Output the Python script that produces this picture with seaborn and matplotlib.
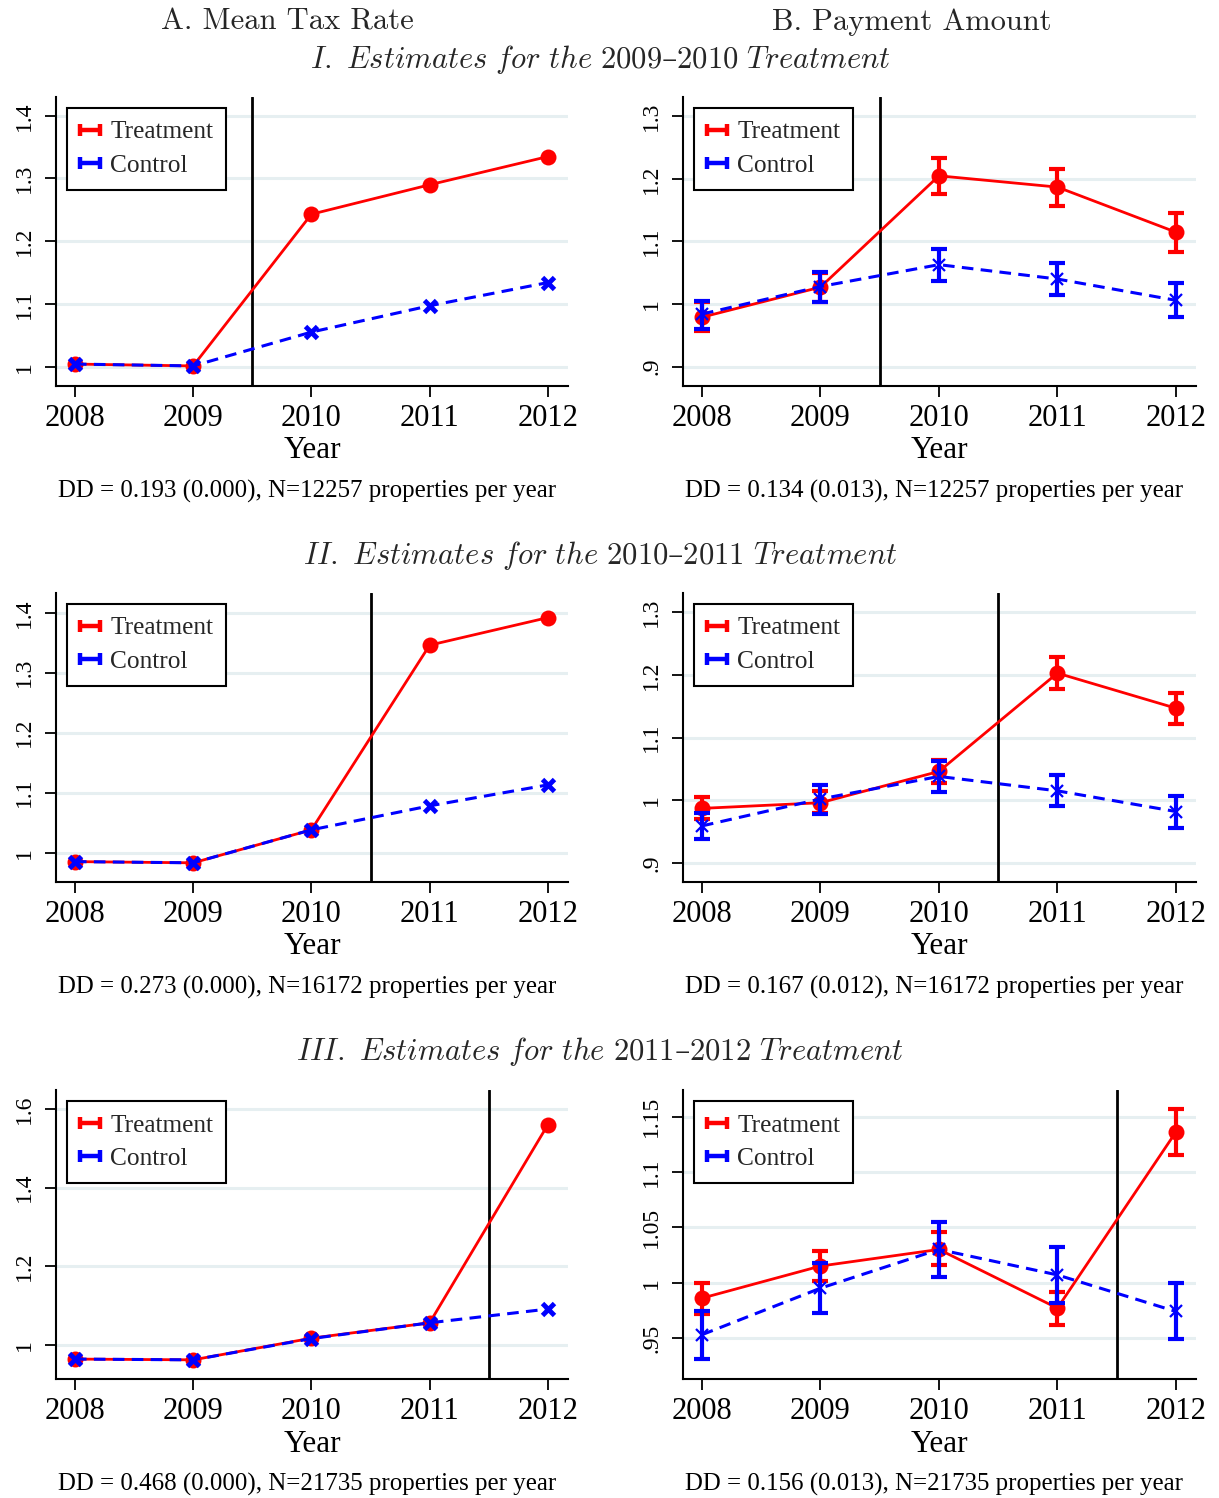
import numpy as np
import pandas as pd
import matplotlib
matplotlib.use("Agg")
import matplotlib.pyplot as plt
import seaborn as sns
from matplotlib.legend_handler import HandlerBase
from matplotlib.lines import Line2D
from matplotlib.ticker import FuncFormatter

# ---------------- data ----------------
years = [2008, 2009, 2010, 2011, 2012]

col_titles = ["A. Mean Tax Rate", "B. Payment Amount"]
row_titles = [r"$\mathit{I.\ Estimates\ for\ the\ 2009}$–$\mathit{2010\ Treatment}$",
              r"$\mathit{II.\ Estimates\ for\ the\ 2010}$–$\mathit{2011\ Treatment}$",
              r"$\mathit{III.\ Estimates\ for\ the\ 2011}$–$\mathit{2012\ Treatment}$"]
treat_breaks = [2009.5, 2010.5, 2011.5]

# Panel A (mean tax rate)
taxA_treat = [[1.004, 1.001, 1.243, 1.290, 1.335],
              [0.985, 0.983, 1.038, 1.346, 1.392],
              [0.965, 0.963, 1.018, 1.057, 1.560]]
taxA_ctrl = [[1.004, 1.001, 1.055, 1.097, 1.134],
             [0.985, 0.983, 1.038, 1.078, 1.113],
             [0.965, 0.963, 1.017, 1.057, 1.092]]

# Panel B (payment amount) with 95% CI bounds
payB_treat = [[0.979, 1.027, 1.205, 1.187, 1.115],
              [0.987, 0.996, 1.046, 1.203, 1.147],
              [0.986, 1.015, 1.030, 0.977, 1.136]]
payB_treat_lo = [[0.957, 1.004, 1.176, 1.157, 1.084],
                 [0.970, 0.979, 1.027, 1.178, 1.121],
                 [0.972, 1.0015, 1.016, 0.962, 1.115]]
payB_treat_hi = [[1.003, 1.050, 1.234, 1.216, 1.146],
                 [1.005, 1.014, 1.064, 1.228, 1.172],
                 [1.000, 1.029, 1.0455, 0.992, 1.157]]
payB_ctrl = [[0.984, 1.028, 1.063, 1.040, 1.006],
             [0.959, 1.002, 1.038, 1.015, 0.982],
             [0.953, 0.995, 1.030, 1.007, 0.974]]
payB_ctrl_lo = [[0.960, 1.004, 1.037, 1.015, 0.979],
                [0.938, 0.978, 1.013, 0.990, 0.955],
                [0.931, 0.973, 1.005, 0.982, 0.949]]
payB_ctrl_hi = [[1.005, 1.051, 1.088, 1.066, 1.033],
                [0.980, 1.025, 1.062, 1.040, 1.007],
                [0.974, 1.018, 1.0545, 1.032, 1.000]]

dd_left = ["DD = 0.193 (0.000), N=12257 properties per year",
           "DD = 0.273 (0.000), N=16172 properties per year",
           "DD = 0.468 (0.000), N=21735 properties per year"]
dd_right = ["DD = 0.134 (0.013), N=12257 properties per year",
            "DD = 0.167 (0.012), N=16172 properties per year",
            "DD = 0.156 (0.013), N=21735 properties per year"]

yticks_left = [[1, 1.1, 1.2, 1.3, 1.4], [1, 1.1, 1.2, 1.3, 1.4], [1, 1.2, 1.4, 1.6]]
yticks_right = [[0.9, 1, 1.1, 1.2, 1.3], [0.9, 1, 1.1, 1.2, 1.3], [0.95, 1, 1.05, 1.1, 1.15]]
ylim_left = [(0.969, 1.430), (0.951, 1.433), (0.9144, 1.648)]
ylim_right = [(0.869, 1.331), (0.8694, 1.331), (0.913, 1.174)]

# ---------------- style ----------------
sns.set_theme(style="ticks")
plt.rcParams["font.family"] = ["Liberation Serif", "DejaVu Serif"]
plt.rcParams["mathtext.fontset"] = "cm"

W, H = 1219, 1498
fig = plt.figure(figsize=(W / 100, H / 100), dpi=100)

RED, BLUE = "#ff0000", "#0000ff"
GRID = "#e6eff1"


def rect(l, t, r, b):
    return [l / W, 1 - b / H, (r - l) / W, (b - t) / H]


class HandlerEB(HandlerBase):
    def create_artists(self, legend, orig, xd, yd, width, height, fontsize, trans):
        c = orig.get_color()
        y = (height - yd) / 2
        x0, x1 = -xd, -xd + width
        h = height * 0.34
        arts = [Line2D([x0, x1], [y, y], color=c, lw=3.2, solid_capstyle="butt"),
                Line2D([x0, x0], [y - h, y + h], color=c, lw=3.2, solid_capstyle="butt"),
                Line2D([x1, x1], [y - h, y + h], color=c, lw=3.2, solid_capstyle="butt")]
        for a in arts:
            a.set_transform(trans)
        return arts


def yfmt(v, pos):
    s = f"{v:.2f}".rstrip("0").rstrip(".")
    if s.startswith("0"):
        s = s[1:]
    return s


rows_top = [97, 593, 1090]
cols_lr = [(56, 568), (683, 1196)]

for r in range(3):
    top = rows_top[r]
    bot = top + 289
    for c in range(2):
        l, rr = cols_lr[c]
        ax = fig.add_axes(rect(l, top, rr, bot))
        if c == 0:
            t, k = taxA_treat[r], taxA_ctrl[r]
        else:
            t, k = payB_treat[r], payB_ctrl[r]
        df = pd.DataFrame({"Year": years * 2, "value": t + k,
                           "group": ["Treatment"] * 5 + ["Control"] * 5})

        ax.yaxis.grid(True, color=GRID, lw=2.2)
        ax.set_axisbelow(True)
        ax.axvline(treat_breaks[r], color="black", lw=2, zorder=1.5)

        # Treatment series
        sns.lineplot(data=df[df.group == "Treatment"], x="Year", y="value", ax=ax,
                     color=RED, lw=2, marker="o", markersize=11.5,
                     markeredgecolor=RED, markeredgewidth=0, errorbar=None,
                     legend=False, zorder=3)
        if c == 1:
            tv = np.array(t)
            lo = np.array(payB_treat_lo[r]); hi = np.array(payB_treat_hi[r])
            ax.errorbar(years, tv, yerr=[tv - lo, hi - tv], fmt="none", ecolor=RED,
                        elinewidth=3, capsize=6, capthick=3, zorder=3)
        # Control series
        if c == 0:
            msz, mew = 8, 3.5
        else:
            msz, mew = 8, 1.6
        sns.lineplot(data=df[df.group == "Control"], x="Year", y="value", ax=ax,
                     color=BLUE, lw=2.2, linestyle=(0, (3.8, 2.4)), marker="x",
                     markersize=msz, markeredgecolor=BLUE, markeredgewidth=mew,
                     errorbar=None, legend=False, zorder=4)
        if c == 1:
            kv = np.array(k)
            lo = np.array(payB_ctrl_lo[r]); hi = np.array(payB_ctrl_hi[r])
            ax.errorbar(years, kv, yerr=[kv - lo, hi - kv], fmt="none", ecolor=BLUE,
                        elinewidth=3, capsize=6, capthick=3, zorder=4)

        ax.set_xlim(2007.84, 2012.17)
        ax.set_ylim(*(ylim_left[r] if c == 0 else ylim_right[r]))
        ax.set_xticks(years)
        ax.set_xticklabels([str(y) for y in years])
        ax.set_yticks(yticks_left[r] if c == 0 else yticks_right[r])
        ax.yaxis.set_major_formatter(FuncFormatter(yfmt))
        ax.tick_params(axis="x", direction="out", length=8, width=1.3, color="black",
                       labelsize=22, pad=5, labelcolor="black")
        ax.tick_params(axis="y", direction="out", length=8, width=1.3, color="black",
                       labelsize=17, pad=7, labelrotation=90, labelcolor="black")
        plt.setp(ax.get_yticklabels(), va="center")
        sns.despine(ax=ax)
        for s in ("left", "bottom"):
            ax.spines[s].set_color("black")
            ax.spines[s].set_linewidth(1.5)

        ax.set_xlabel("Year", fontsize=22.5, color="black")
        ax.xaxis.set_label_coords(0.5, -(451 - 386) / 289)
        ax.xaxis.label.set_va("center")
        ax.set_ylabel("")

        ax.text(0.49, -(491 - 386) / 289, dd_left[r] if c == 0 else dd_right[r],
                transform=ax.transAxes, ha="center", va="center", fontsize=17.9,
                color="black")

        hT = Line2D([], [], color=RED)
        hC = Line2D([], [], color=BLUE)
        leg = ax.legend([hT, hC], ["Treatment", "Control"],
                        handler_map={Line2D: HandlerEB()},
                        loc="upper left", bbox_to_anchor=(11 / 512, 1 - 11 / 289),
                        borderaxespad=0, fontsize=18.3, frameon=True, fancybox=False,
                        framealpha=1, edgecolor="black", handlelength=0.8,
                        handletextpad=0.4, borderpad=0.5, labelspacing=0.42)
        leg.get_frame().set_linewidth(1.5)
        leg.set_zorder(10)

# ---------------- titles ----------------
fig.text(287 / W, 1 - 22 / H, col_titles[0], ha="center", va="center", fontsize=22,
         family=["cmr10", "DejaVu Serif"])
fig.text(912 / W, 1 - 22 / H, col_titles[1], ha="center", va="center", fontsize=22,
         family=["cmr10", "DejaVu Serif"])
for r, y in enumerate([60, 556, 1052]):
    fig.text(600 / W, 1 - y / H, row_titles[r], ha="center", va="center", fontsize=22,
             family=["DejaVu Serif"])

fig.savefig("out.png", dpi=100)
